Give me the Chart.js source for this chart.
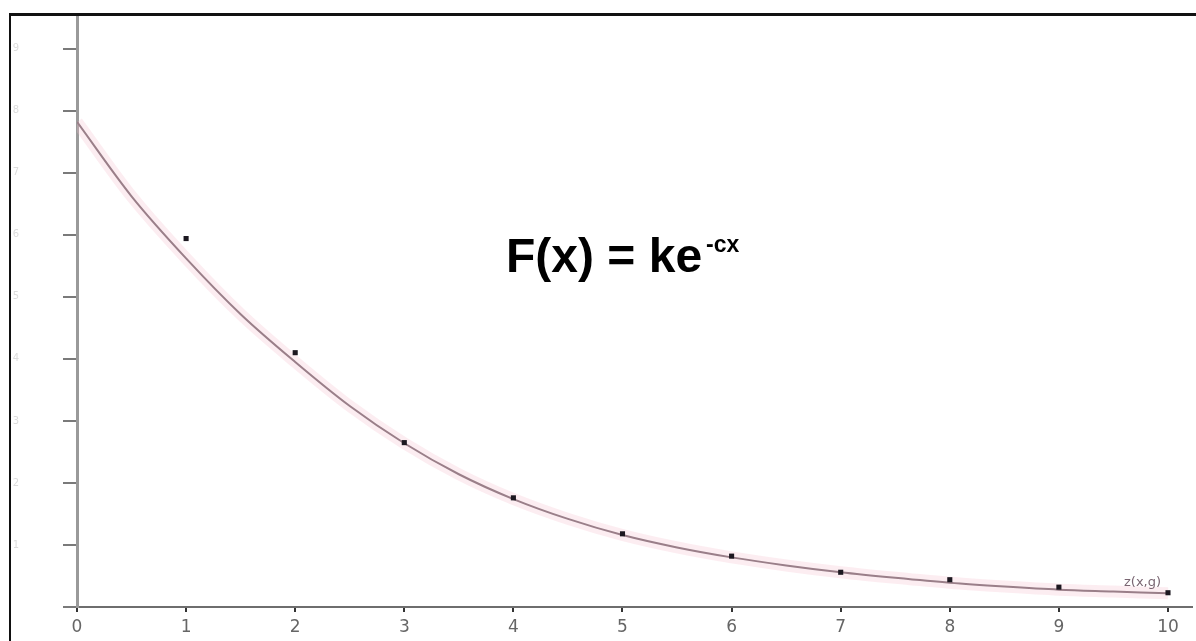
<!DOCTYPE html>
<html>
<head>
<meta charset="utf-8">
<script src="https://cdn.jsdelivr.net/npm/chart.js@4.4.1/dist/chart.umd.min.js"></script>
<style>
  html, body { margin: 0; padding: 0; background: #ffffff; }
  #wrap { position: relative; width: 1196px; height: 641px; overflow: hidden; background: #fff; }
  #c { position: absolute; left: 0; top: 0; }
  #frame { position: absolute; left: 9px; top: 13px; width: 1300px; height: 800px;
           border-top: 3px solid #111; border-left: 2px solid #111; pointer-events: none; }
  #formula { position: absolute; left: 506px; top: 232px; font-family: "Liberation Sans", Arial, sans-serif;
             font-weight: bold; font-size: 48px; line-height: 48px; color: #000; white-space: nowrap; }
  #formula span { font-size: 23px; line-height: 0; vertical-align: 20px; margin-left: 4px; }
  #zlabel { position: absolute; left: 1124px; top: 574px; font-family: "DejaVu Sans", sans-serif;
            font-size: 13px; color: #7a6672; white-space: nowrap; }
</style>
</head>
<body>
<div id="wrap">
  <canvas id="c" width="1196" height="641"></canvas>
  <div id="frame"></div>
  <div id="formula">F(x) = ke<span>-cx</span></div>
  <div id="zlabel">z(x,g)</div>
</div>
<script>
// Measured data points
const pointX = [1, 2, 3, 4, 5, 6, 7, 8, 9, 10];
const pointY = [5.94, 4.10, 2.65, 1.76, 1.18, 0.82, 0.56, 0.44, 0.32, 0.23];

// Fitted curve
const curveX = [0, 0.5, 1, 1.5, 2, 2.5, 3, 3.5, 4, 4.5, 5, 5.5, 6, 6.5, 7, 7.5, 8, 8.5, 9, 9.5, 10];
const curveY = [7.82, 6.62, 5.62, 4.72, 3.95, 3.24, 2.64, 2.14, 1.74, 1.42, 1.16, 0.96, 0.80, 0.67, 0.56, 0.47, 0.39, 0.33, 0.28, 0.25, 0.22];

// Tick labels
const xTicks = [0, 1, 2, 3, 4, 5, 6, 7, 8, 9, 10];
const yTicks = [0, 1, 2, 3, 4, 5, 6, 7, 8, 9];

const pts = pointX.map((x, i) => ({ x: x, y: pointY[i] }));
const curve = curveX.map((x, i) => ({ x: x, y: curveY[i] }));

new Chart(document.getElementById('c'), {
  type: 'scatter',
  data: {
    datasets: [
      { label: 'halo', data: curve, showLine: true, borderColor: 'rgba(245,190,205,0.28)', borderWidth: 12,
        pointRadius: 0, tension: 0.4, cubicInterpolationMode: 'monotone', order: 3 },
      { label: 'F(x)', data: curve, showLine: true, borderColor: '#9a7f89', borderWidth: 2,
        pointRadius: 0, tension: 0.4, cubicInterpolationMode: 'monotone', order: 2 },
      { label: 'data', data: pts, showLine: false, pointStyle: 'rect', pointRadius: 3.6,
        backgroundColor: '#1c1820', borderColor: '#1c1820', borderWidth: 0, order: 1 }
    ]
  },
  options: {
    responsive: false,
    animation: false,
    layout: { padding: { left: 0, right: 0, top: 14, bottom: 0 } },
    plugins: { legend: { display: false }, tooltip: { enabled: false } },
    scales: {
      x: {
        type: 'linear', min: 0, max: 10.22,
        afterBuildTicks: s => { s.ticks = xTicks.map(v => ({ value: v })); },
        afterFit: s => { s.height = 34; s.paddingLeft = 0; s.paddingRight = 0; },
        border: { display: true, color: '#6e6e6e', width: 2 },
        grid: { drawOnChartArea: false, tickLength: 5, tickColor: '#333', lineWidth: 2 },
        ticks: { padding: 5, color: '#666666', font: { family: 'DejaVu Sans', size: 17 },
                 callback: v => String(v), maxRotation: 0, autoSkip: false }
      },
      y: {
        type: 'linear', min: 0, max: 9.56,
        afterBuildTicks: s => { s.ticks = yTicks.map(v => ({ value: v })); },
        afterFit: s => { s.width = 77; s.paddingTop = 0; s.paddingBottom = 0; },
        border: { display: true, color: '#9a9a9a', width: 3 },
        grid: { drawOnChartArea: false, tickLength: 14, tickColor: '#7a7a7a', lineWidth: 2 },
        ticks: { padding: 44, color: '#dcdcdc', font: { family: 'DejaVu Sans', size: 10 },
                 callback: v => (v === 0 ? '' : String(v)), autoSkip: false }
      }
    }
  }
});
</script>
</body>
</html>
